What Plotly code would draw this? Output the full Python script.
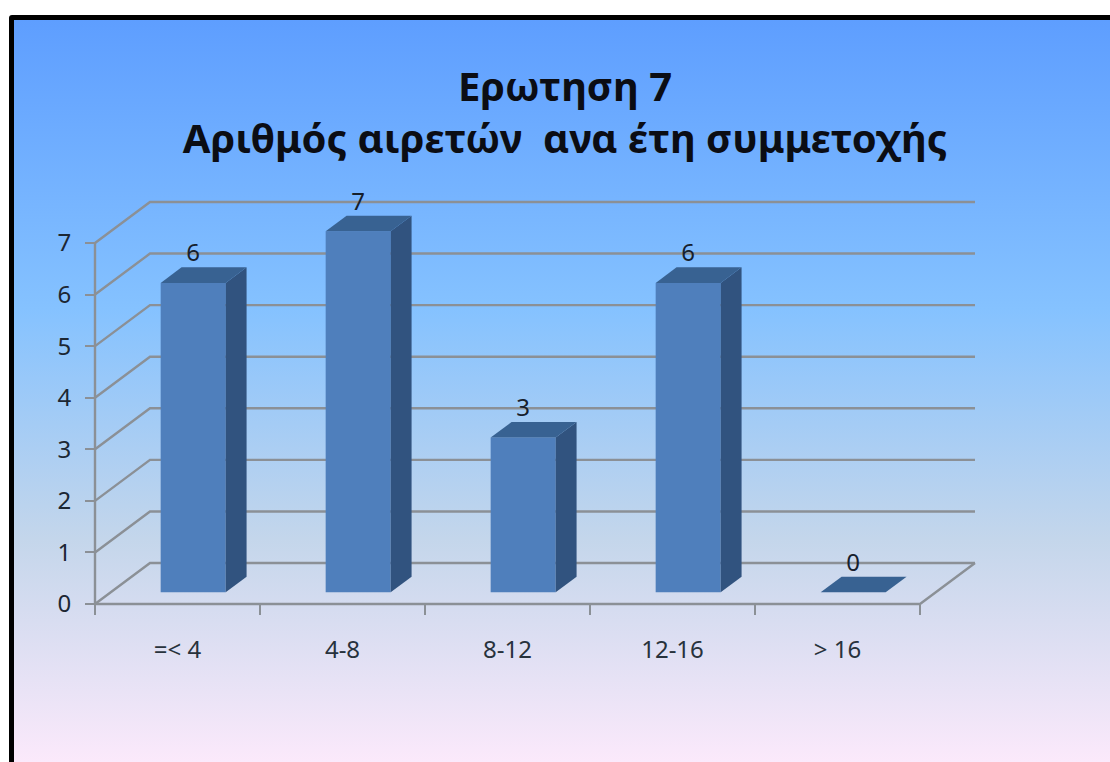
import base64
import plotly.graph_objects as go

# --- data ---
categories = ["=< 4", "4-8", "8-12", "12-16", "> 16"]
values = [6, 7, 3, 6, 0]
y_ticks = [0, 1, 2, 3, 4, 5, 6, 7]
title_lines = ["Ερωτηση 7", "Αριθμός αιρετών\u00a0\u00a0ανα έτη συμμετοχής"]

# --- oblique projection, in axis units (one category wide / one value high) ---
DEPTH_X, DEPTH_Y = 1 / 3, 0.795
BAR_WIDTH = 0.394
BAR_NEAR, BAR_FAR = 0.285, 0.665   # where a bar starts and ends along the depth

W, H = 1110, 762
LEFT, RIGHT, BOTTOM, TOP = 95, 920, 604, 243

FRONT, SIDE, CAP = "#4f7fbc", "#31537f", "#386292"
GRID = "#8b9096"
FONT = "Noto Sans"

positions = list(range(len(categories)))
x_lo, x_hi = -0.5, len(categories) - 0.5
y_lo, y_hi = y_ticks[0], y_ticks[-1]

# the axes span the whole page, so the projected walls stay inside their range
px_per_x = (RIGHT - LEFT) / (x_hi - x_lo)
px_per_y = (BOTTOM - TOP) / (y_hi - y_lo)
x_range = [x_lo - LEFT / px_per_x, x_lo + (W - LEFT) / px_per_x]
y_range = [y_lo - (H - BOTTOM) / px_per_y, y_lo + BOTTOM / px_per_y]

bg = f"""<svg xmlns='http://www.w3.org/2000/svg' width='{W}' height='{H}' viewBox='0 0 {W} {H}' preserveAspectRatio='none'>
<defs><linearGradient id='g' x1='0' y1='0' x2='0' y2='1'>
<stop offset='0' stop-color='#5e9eff'/><stop offset='0.39' stop-color='#85c2ff'/>
<stop offset='0.70' stop-color='#c4d6eb'/><stop offset='1' stop-color='#fbe9fb'/>
</linearGradient></defs>
<rect width='{W}' height='{H}' fill='white'/>
<rect x='9' y='15' width='{W + 20}' height='{H + 20}' rx='3' fill='black'/>
<rect x='14' y='20' width='{W + 20}' height='{H - 20}' fill='url(#g)'/>
</svg>"""
bg_uri = "data:image/svg+xml;base64," + base64.b64encode(bg.encode()).decode()

fig = go.Figure()


def wall_line(xs, ys):
    fig.add_trace(go.Scatter(x=xs, y=ys, mode="lines", showlegend=False,
                             hoverinfo="skip", line=dict(color=GRID, width=2.4)))


# back wall and left wall lines, one per y tick
for t in y_ticks:
    wall_line([x_lo, x_lo + DEPTH_X, x_hi + DEPTH_X], [t, t + DEPTH_Y, t + DEPTH_Y])
# value axis, category axis, right edge of the floor
wall_line([x_lo, x_lo], [y_lo, y_hi])
wall_line([x_lo, x_hi, x_hi + DEPTH_X], [y_lo, y_lo, y_lo + DEPTH_Y])

# front faces: real bars on an overlay axis pair so they sit above the walls
fig.add_trace(go.Bar(
    x=[p + BAR_NEAR * DEPTH_X for p in positions],
    y=values,
    base=[BAR_NEAR * DEPTH_Y] * len(values),
    width=BAR_WIDTH,
    xaxis="x2", yaxis="y2",
    marker=dict(color=FRONT, line=dict(width=0)),
    showlegend=False,
))

# side and top faces of each bar
for p, v in zip(positions, values):
    xl = p + BAR_NEAR * DEPTH_X - BAR_WIDTH / 2
    xr = xl + BAR_WIDTH
    base = BAR_NEAR * DEPTH_Y
    top = base + v
    ddx = (BAR_FAR - BAR_NEAR) * DEPTH_X
    ddy = (BAR_FAR - BAR_NEAR) * DEPTH_Y
    if v > 0:
        fig.add_trace(go.Scatter(
            x=[xr, xr + ddx, xr + ddx, xr, xr], y=[base, base + ddy, top + ddy, top, base],
            mode="lines", fill="toself", fillcolor=SIDE, line=dict(width=0),
            xaxis="x2", yaxis="y2", showlegend=False, hoverinfo="skip"))
    fig.add_trace(go.Scatter(
        x=[xl, xr, xr + ddx, xl + ddx, xl], y=[top, top, top + ddy, top + ddy, top],
        mode="lines", fill="toself", fillcolor=CAP, line=dict(width=0),
        xaxis="x2", yaxis="y2", showlegend=False, hoverinfo="skip"))

# value labels
fig.add_trace(go.Scatter(
    x=[p + BAR_NEAR * DEPTH_X for p in positions],
    y=[v + BAR_FAR * DEPTH_Y for v in values],
    text=[str(v) for v in values],
    mode="text", textposition="top center",
    textfont=dict(family=FONT, size=24, color="#16202c"),
    xaxis="x2", yaxis="y2", showlegend=False, hoverinfo="skip",
))

fig.update_layout(
    width=W, height=H, autosize=False,
    margin=dict(l=0, r=0, t=0, b=0, pad=0),
    paper_bgcolor="white", plot_bgcolor="rgba(0,0,0,0)",
    showlegend=False, barmode="overlay",
    font=dict(family=FONT, color="#1c2733"),
    title=dict(
        text="<br>".join(title_lines),
        x=565 / W, xanchor="center", xref="container",
        y=1 - 101 / H, yanchor="middle", yref="container",
        automargin=False,
        font=dict(family=FONT, size=40, color="#0b0d14", weight="bold"),
    ),
    images=[dict(source=bg_uri, xref="paper", yref="paper", x=0, y=1, sizex=1, sizey=1,
                 sizing="stretch", xanchor="left", yanchor="top", layer="below")],
    xaxis=dict(
        domain=[0, 1], range=x_range, showgrid=False, zeroline=False, showline=False,
        anchor="free", position=(H - BOTTOM) / H, automargin=False,
        tickmode="array", tickvals=positions, ticktext=categories,
        ticks="outside", ticklen=0, tickcolor=GRID,
        ticklabelstandoff=24,
        tickfont=dict(family=FONT, size=24, color="#28323c"),
        minor=dict(tickmode="array", tickvals=[p - 0.5 for p in positions] + [x_hi],
                   ticks="outside", ticklen=10, tickcolor=GRID, tickwidth=2.2, showgrid=False),
    ),
    yaxis=dict(
        domain=[0, 1], range=y_range, showgrid=False, zeroline=False, showline=False,
        anchor="free", position=LEFT / W, automargin=False,
        tickmode="array", tickvals=y_ticks,
        ticks="outside", ticklen=10, tickcolor=GRID, tickwidth=2.2,
        ticklabelstandoff=9,
        tickfont=dict(family=FONT, size=24, color="#1c2733"),
    ),
    xaxis2=dict(domain=[0, 1], range=x_range, overlaying="x", visible=False),
    yaxis2=dict(domain=[0, 1], range=y_range, overlaying="y", visible=False),
)

fig.write_html("out.html", config={"displayModeBar": False},
               post_script="document.body.style.margin='0';document.body.style.overflow='hidden';")
